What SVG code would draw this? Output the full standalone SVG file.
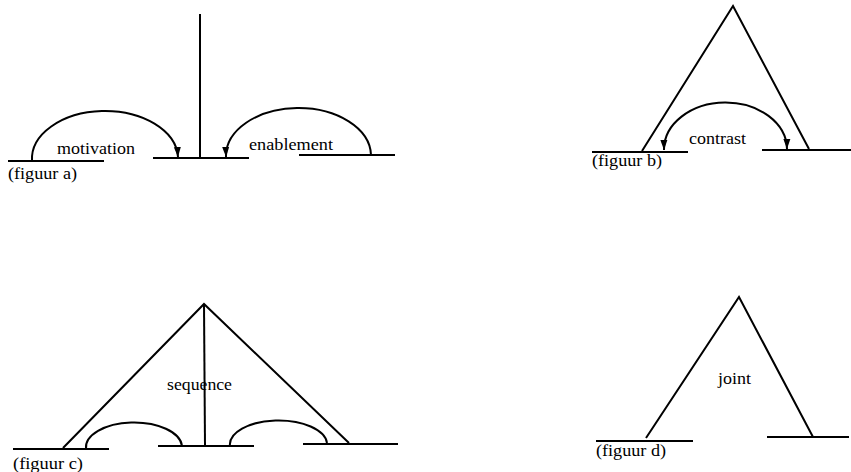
<svg xmlns="http://www.w3.org/2000/svg" width="851" height="472" viewBox="0 0 851 472">
<style>
.ln{stroke:#000;stroke-width:2;fill:none;stroke-linecap:butt}
.tx{font-family:"Liberation Serif",serif;font-size:16px;fill:#000}
</style>
<defs>
<marker id="ah" markerUnits="userSpaceOnUse" markerWidth="11" markerHeight="9" refX="10" refY="4.5" orient="auto-start-reverse">
<path d="M0,1 L10,4.5 L0,8 z" fill="#000"/>
</marker>
</defs>
<rect width="851" height="472" fill="#fff"/>
<g id="fig-a">
<line class="ln" x1="8" y1="161" x2="104" y2="161"/>
<line class="ln" x1="153" y1="158" x2="249" y2="158"/>
<line class="ln" x1="299" y1="155" x2="395" y2="155"/>
<line class="ln" x1="200" y1="14" x2="200" y2="158"/>
<text class="tx" x="57" y="154" textLength="78" lengthAdjust="spacingAndGlyphs">motivation</text>
<text class="tx" x="249" y="150" textLength="84" lengthAdjust="spacingAndGlyphs">enablement</text>
<text class="tx" x="8" y="179" textLength="69" lengthAdjust="spacingAndGlyphs">(figuur a)</text>
</g>
<g id="fig-b">
<line class="ln" x1="592" y1="152" x2="688" y2="152"/>
<line class="ln" x1="762" y1="150" x2="851" y2="150"/>
<polyline class="ln" points="642,151 733,6 809,149"/>
<text class="tx" x="689" y="144" textLength="57" lengthAdjust="spacingAndGlyphs">contrast</text>
<text class="tx" x="592" y="166" textLength="70" lengthAdjust="spacingAndGlyphs">(figuur b)</text>
</g>
<g id="fig-c">
<line class="ln" x1="13" y1="449" x2="109" y2="449"/>
<line class="ln" x1="158" y1="446" x2="254" y2="446"/>
<line class="ln" x1="303" y1="444" x2="398" y2="444"/>
<polyline class="ln" points="63,448 204,304 349,443"/>
<line class="ln" x1="204" y1="304" x2="205" y2="446"/>
<text class="tx" x="167" y="390" textLength="65" lengthAdjust="spacingAndGlyphs">sequence</text>
<text class="tx" x="13" y="469" textLength="70" lengthAdjust="spacingAndGlyphs">(figuur c)</text>
</g>
<g id="fig-d">
<line class="ln" x1="596" y1="441" x2="693" y2="441"/>
<line class="ln" x1="767" y1="437" x2="849" y2="437"/>
<polyline class="ln" points="646,438 739,297 813,437"/>
<text class="tx" x="718" y="384" textLength="33" lengthAdjust="spacingAndGlyphs">joint</text>
<text class="tx" x="596" y="456" textLength="70" lengthAdjust="spacingAndGlyphs">(figuur d)</text>
</g>
<g id="connectors">
<path class="ln" d="M32,161 A73,48 0 0 1 178,157" marker-end="url(#ah)"/>
<path class="ln" d="M371,155 A72.5,48 0 0 0 226,157" marker-end="url(#ah)"/>
<path class="ln" d="M664,150 A61.5,47 0 0 1 787,149" marker-start="url(#ah)" marker-end="url(#ah)"/>
<path class="ln" d="M86,449 A48,25 0 0 1 182,446"/>
<path class="ln" d="M230,446 A48.5,24 0 0 1 327,443"/>
</g>
</svg>
